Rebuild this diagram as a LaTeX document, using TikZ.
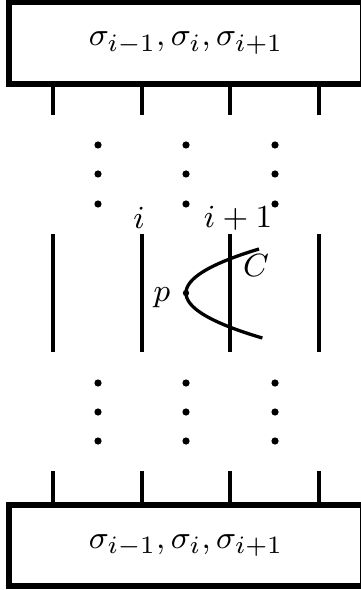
\documentclass[tikz,border=0pt]{standalone}
\begin{document}
\begin{tikzpicture}[x=0.28pt,y=-0.28pt,
  every node/.style={font=\fontsize{9.3}{11}\selectfont},
  boxst/.style={draw,line width=1.7pt,inner sep=0pt,minimum width=99.12pt},
  wire/.style={line width=1.12pt},
  curvest/.style={line width=0.92pt},
  lbl/.style={inner sep=0pt}]
\clip (0,0) rectangle (361,590);
\node[boxst,minimum height=22.96pt] (top) at (186,43) {$\sigma_{i-1},\sigma_i,\sigma_{i+1}$};
\node[boxst,minimum height=22.82pt] (bot) at (186,545.5) {$\sigma_{i-1},\sigma_i,\sigma_{i+1}$};
\foreach \x in {53,142,230,319} {
  \coordinate (ts\x) at (\x,115);
  \coordinate (bs\x) at (\x,471);
  \draw[wire] (top.south -| ts\x) -- (ts\x);
  \draw[wire] (bs\x) -- (bot.north -| bs\x);
  \draw[wire] (\x,234) -- (\x,352);
}
\foreach \x in {98,186,275} {
  \foreach \y in {145,174,204,383,412,441} {
    \fill (\x,\y) circle (3.6);
  }
}
\coordinate (p) at (186,293);
\draw[curvest] plot[domain=-44:45,samples=60,smooth] ({186+73/1936*\x*\x},{293+\x});
\fill (p) circle (3.2);
\node[lbl] (li) at (139,218) {$i$};
\node[lbl] (li1) at (238,218) {$i+1$};
\node[lbl] (lC) at (256,266) {$C$};
\node[lbl] (lp) at (162,298) {$p$};
\end{tikzpicture}
\end{document}
